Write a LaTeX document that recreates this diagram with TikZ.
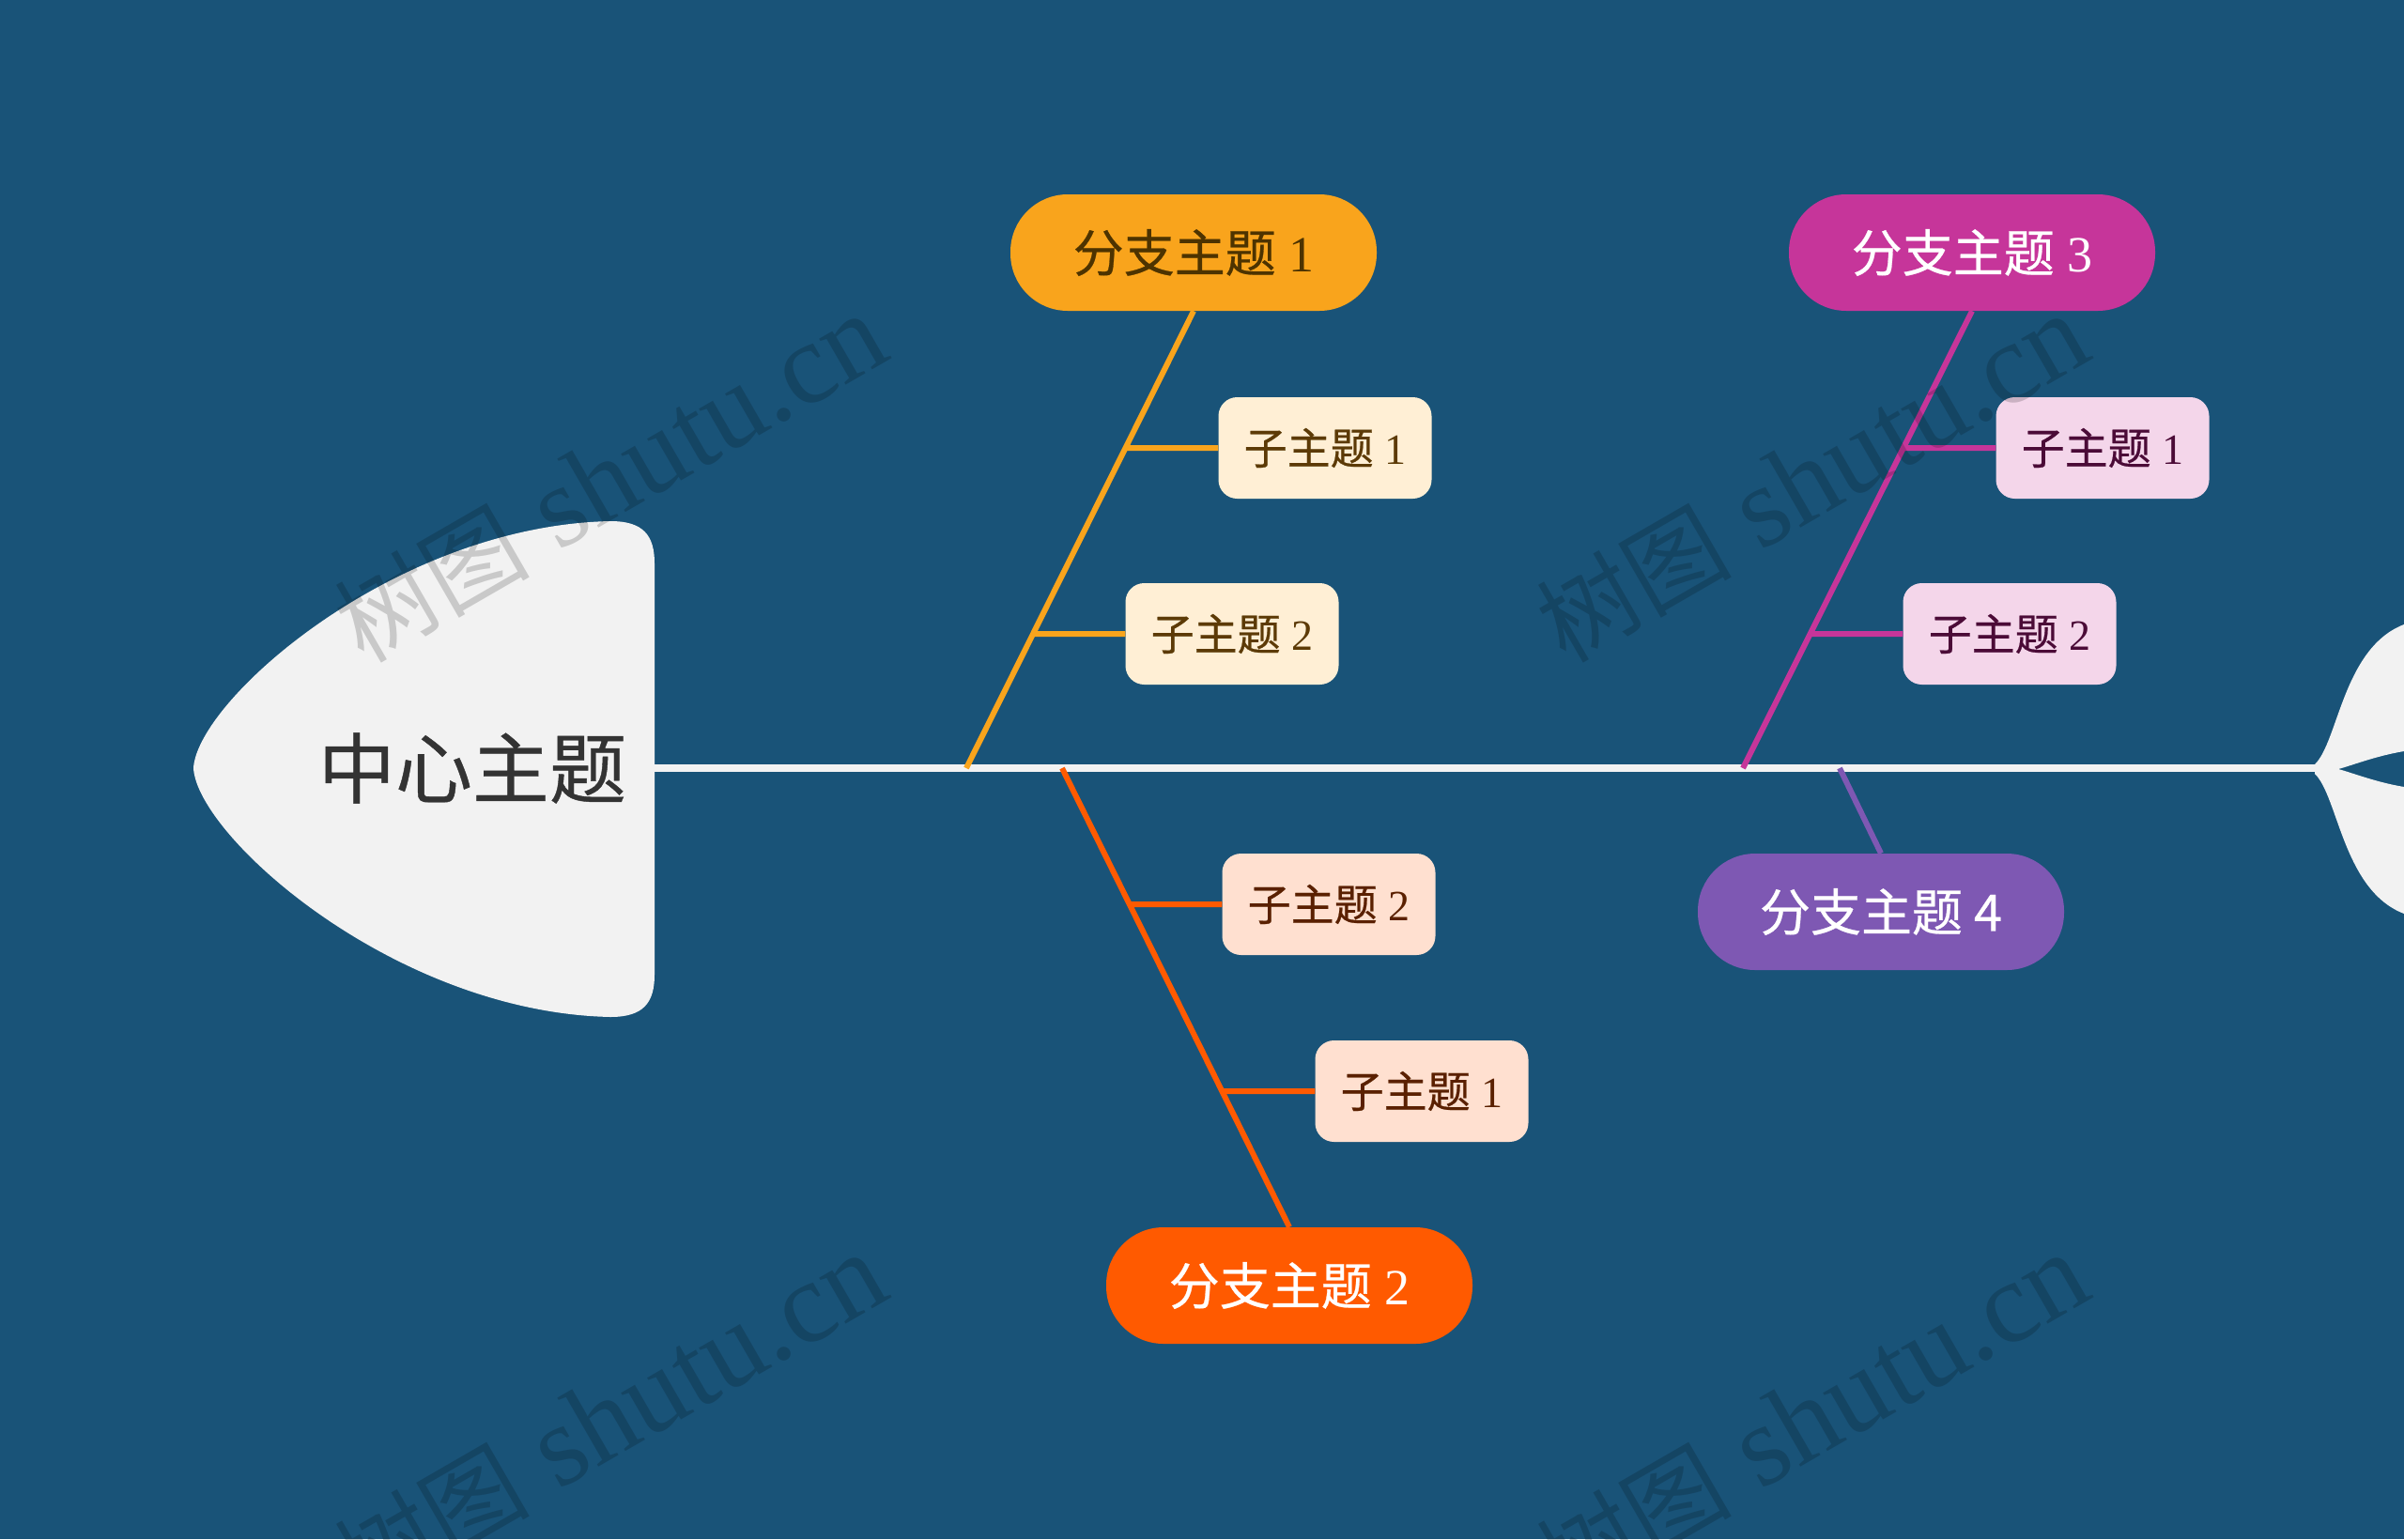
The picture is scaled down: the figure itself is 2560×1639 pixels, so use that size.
\documentclass[tikz,border=0pt]{standalone}
\usepackage{fontspec}
\setmainfont{Liberation Serif}
\newfontfamily\cjk[FakeBold=0.5]{Noto Sans CJK SC}
\newfontfamily\cjkwm{Noto Sans CJK SC}
\usetikzlibrary{calc}
\definecolor{bg}{HTML}{195378}
\definecolor{headfill}{HTML}{F2F2F2}
\definecolor{headtext}{HTML}{333333}
\definecolor{cA}{HTML}{F9A41C}
\definecolor{cAt}{HTML}{4D3300}
\definecolor{sA}{HTML}{FFEFD5}
\definecolor{sAt}{HTML}{5C3A06}
\definecolor{cB}{HTML}{FF5A00}
\definecolor{sB}{HTML}{FFE0D0}
\definecolor{sBt}{HTML}{5A2000}
\definecolor{cC}{HTML}{C6359A}
\definecolor{sC}{HTML}{F4D6EA}
\definecolor{sCt}{HTML}{4B0B37}
\definecolor{cD}{HTML}{7E58B3}
\begin{document}
\begin{tikzpicture}[x=1pt,y=-1pt,
  pill/.style={rounded corners=61pt, minimum width=390pt, minimum height=124pt, inner sep=0pt, font=\fontsize{54}{60}\selectfont},
  subbox/.style={rounded corners=20pt, minimum width=227pt, minimum height=108pt, inner sep=0pt, font=\fontsize{46}{52}\selectfont},
  bone/.style={line width=6pt},
  spine/.style={line width=8pt, draw=headfill},
  wm/.style={rotate=30, text=black, text opacity=0.17, font=\fontsize{123}{123}\selectfont, inner sep=0pt}]
\useasboundingbox (0,0) rectangle (2560,1639);
\clip (0,0) rectangle (2560,1639);
\fill[bg] (0,0) rectangle (2560,1639);

% head (center topic)
\fill[headfill] (697,600) -- (697,1038) .. controls (697,1068) and (685,1083) .. (650,1083)
  .. controls (420,1078) and (210,890) .. (206,818)
  .. controls (210,746) and (420,560) .. (650,555)
  .. controls (685,555) and (697,570) .. (697,600) -- cycle;
\node[text=headtext, font=\cjk\fontsize{82}{90}\selectfont, inner sep=0pt] (ct) at (503,818) {中心主题};

% tail
\fill[headfill] (2465,814) .. controls (2490,790) and (2495,690) .. (2560,665) -- (2600,655) -- (2600,797)
  -- (2560,800) .. controls (2530,805) and (2505,815) .. (2490,819)
  .. controls (2505,823) and (2530,833) .. (2560,838) -- (2600,841) -- (2600,983)
  -- (2560,973) .. controls (2495,948) and (2490,848) .. (2465,824) -- cycle;

% spine
\coordinate (headR) at (697,818);
\coordinate (tailL) at (2470,818);
\draw[spine] (headR) -- (tailL);

% main branch nodes
\node[pill, fill=cA, text=cAt] (b1) at (1271,269) {{\cjk 分支主题} 1};
\node[pill, fill=cB, text=white] (b2) at (1373,1369) {{\cjk 分支主题} 2};
\node[pill, fill=cC, text=white] (b3) at (2100,269) {{\cjk 分支主题} 3};
\node[pill, fill=cD, text=white] (b4) at (2003,971) {{\cjk 分支主题 4}};

% sub topics
\node[subbox, fill=sA, text=sAt] (b1s1) at (1411,477) {{\cjk 子主题} 1};
\node[subbox, fill=sA, text=sAt] (b1s2) at (1312,675) {{\cjk 子主题} 2};
\node[subbox, fill=sB, text=sBt] (b2s2) at (1415,963) {{\cjk 子主题} 2};
\node[subbox, fill=sB, text=sBt] (b2s1) at (1514,1162) {{\cjk 子主题} 1};
\node[subbox, fill=sC, text=sCt] (b3s1) at (2239,477) {{\cjk 子主题} 1};
\node[subbox, fill=sC, text=sCt] (b3s2) at (2140,675) {{\cjk 子主题} 2};

% roots on spine
\coordinate (r1) at (1029,818);
\coordinate (r2) at (1131,818);
\coordinate (r3) at (1856,818);
\coordinate (r4) at (1959,818);

% bones
\draw[bone, cA] (r1) -- (b1.south);
\draw[bone, cB] (r2) -- (b2.north);
\draw[bone, cC] (r3) -- (b3.south);
\draw[bone, cD] (r4) -- (b4.north);

% sub stems
\draw[bone, cA] (b1s1.west) -- (intersection of r1--b1.south and b1s1.west--b1s1.east);
\draw[bone, cA] (b1s2.west) -- (intersection of r1--b1.south and b1s2.west--b1s2.east);
\draw[bone, cB] (b2s2.west) -- (intersection of r2--b2.north and b2s2.west--b2s2.east);
\draw[bone, cB] (b2s1.west) -- (intersection of r2--b2.north and b2s1.west--b2s1.east);
\draw[bone, cC] (b3s1.west) -- (intersection of r3--b3.south and b3s1.west--b3s1.east);
\draw[bone, cC] (b3s2.west) -- (intersection of r3--b3.south and b3s2.west--b3s2.east);

% watermarks
\node[wm] (wm1) at (650,510) {{\cjkwm\fontsize{104}{104}\selectfont 树图} shutu.cn};
\node[wm] (wm2) at (1930,510) {{\cjkwm\fontsize{104}{104}\selectfont 树图} shutu.cn};
\node[wm] (wm3) at (650,1510) {{\cjkwm\fontsize{104}{104}\selectfont 树图} shutu.cn};
\node[wm] (wm4) at (1930,1510) {{\cjkwm\fontsize{104}{104}\selectfont 树图} shutu.cn};
\end{tikzpicture}
\end{document}
